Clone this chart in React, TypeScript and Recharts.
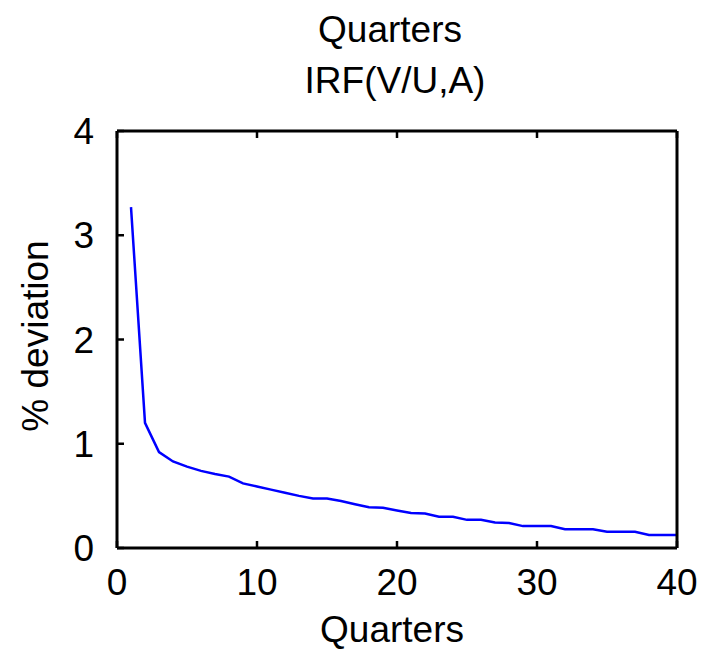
import { LineChart, Line, XAxis, YAxis, Label } from "recharts";

const quarters = [
  1, 2, 3, 4, 5, 6, 7, 8, 9, 10, 11, 12, 13, 14, 15, 16, 17, 18, 19, 20,
  21, 22, 23, 24, 25, 26, 27, 28, 29, 30, 31, 32, 33, 34, 35, 36, 37, 38, 39, 40,
];
const irfValues = [
  3.27, 1.2, 0.92, 0.83, 0.78, 0.74, 0.71, 0.685, 0.62, 0.59,
  0.56, 0.53, 0.5, 0.475, 0.475, 0.45, 0.42, 0.39, 0.385, 0.36,
  0.335, 0.33, 0.3, 0.3, 0.27, 0.27, 0.245, 0.24, 0.21, 0.21,
  0.21, 0.18, 0.18, 0.18, 0.155, 0.155, 0.155, 0.125, 0.125, 0.125,
];
const xTicks = [0, 10, 20, 30, 40];
const yTicks = [0, 1, 2, 3, 4];

const data = quarters.map((q, i) => ({ q, v: irfValues[i] }));

const FONT = '"Liberation Sans", Arial, sans-serif';
const FS = 37;

const BottomTick = (p: any) => (
  <g>
    <line x1={p.x} x2={p.x} y1={p.y} y2={p.y - 7} stroke="#000" strokeWidth={2.5} />
    <text x={p.x} y={p.y + 47} textAnchor="middle" fontSize={FS} fontFamily={FONT} fill="#000">
      {p.payload.value}
    </text>
  </g>
);

const TopTick = (p: any) => (
  <line x1={p.x} x2={p.x} y1={p.y} y2={p.y + 7} stroke="#000" strokeWidth={2.5} />
);

const LeftTick = (p: any) => (
  <g>
    <line x1={p.x} x2={p.x + 7} y1={p.y} y2={p.y} stroke="#000" strokeWidth={2.5} />
    <text x={p.x - 23} y={p.y + 13} textAnchor="end" fontSize={FS} fontFamily={FONT} fill="#000">
      {p.payload.value}
    </text>
  </g>
);

const RightTick = (p: any) => (
  <line x1={p.x} x2={p.x - 7} y1={p.y} y2={p.y} stroke="#000" strokeWidth={2.5} />
);

export default function App() {
  return (
    <div style={{ position: "absolute", left: 0, top: 0, width: 708, height: 651, background: "#fff" }}>
      <LineChart
        width={708}
        height={651}
        data={data}
        margin={{ top: 130, right: 30, bottom: 43, left: 57 }}
      >
        <XAxis
          xAxisId="b"
          dataKey="q"
          type="number"
          domain={[0, 40]}
          ticks={xTicks}
          height={60}
          tickSize={0}
          tickMargin={0}
          tickLine={false}
          tick={<BottomTick />}
          axisLine={{ stroke: "#000", strokeWidth: 3 }}
        >
          <Label
            content={() => (
              <text x={392} y={642} textAnchor="middle" fontSize={FS} fontFamily={FONT} fill="#000">
                Quarters
              </text>
            )}
          />
        </XAxis>
        <XAxis
          xAxisId="t"
          orientation="top"
          dataKey="q"
          type="number"
          domain={[0, 40]}
          ticks={xTicks}
          height={1}
          tickSize={0}
          tickMargin={0}
          tickLine={false}
          tick={<TopTick />}
          axisLine={{ stroke: "#000", strokeWidth: 3 }}
        >
          <Label
            content={() => (
              <g>
                <text x={390} y={42} textAnchor="middle" fontSize={FS} fontFamily={FONT} fill="#000">
                  Quarters
                </text>
                <text x={395} y={93} textAnchor="middle" fontSize={FS} fontFamily={FONT} fill="#000">
                  IRF(V/U,A)
                </text>
              </g>
            )}
          />
        </XAxis>
        <YAxis
          yAxisId="l"
          type="number"
          domain={[0, 4]}
          ticks={yTicks}
          width={60}
          tickSize={0}
          tickMargin={0}
          tickLine={false}
          tick={<LeftTick />}
          axisLine={{ stroke: "#000", strokeWidth: 3 }}
        >
          <Label
            content={() => (
              <text
                x={48}
                y={336}
                textAnchor="middle"
                fontSize={FS}
                fontFamily={FONT}
                fill="#000"
                transform="rotate(-90 48 336)"
              >
                % deviation
              </text>
            )}
          />
        </YAxis>
        <YAxis
          yAxisId="r"
          orientation="right"
          type="number"
          domain={[0, 4]}
          ticks={yTicks}
          width={1}
          tickSize={0}
          tickMargin={0}
          tickLine={false}
          tick={<RightTick />}
          axisLine={{ stroke: "#000", strokeWidth: 3 }}
        />
        <Line
          xAxisId="b"
          yAxisId="l"
          type="linear"
          dataKey="v"
          stroke="#0000ff"
          strokeWidth={2.5}
          dot={false}
          isAnimationActive={false}
        />
      </LineChart>
    </div>
  );
}
